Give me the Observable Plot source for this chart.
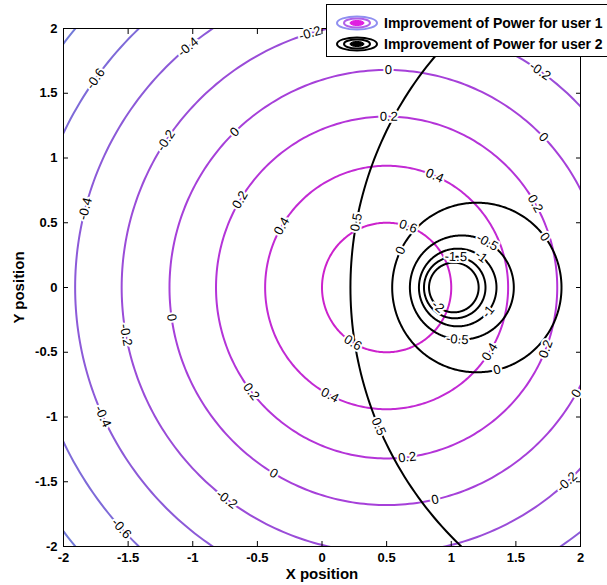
<!DOCTYPE html>
<html>
<head>
<meta charset="utf-8">
<script src="https://cdn.jsdelivr.net/npm/d3@7"></script>
<script src="https://cdn.jsdelivr.net/npm/@observablehq/plot@0.6"></script>
<style>
  body { margin: 0; background: #fff; font-family: "Liberation Sans", Arial, sans-serif; }
  #wrap { position: relative; width: 607px; height: 585px; overflow: hidden; }
  #wrap svg { display: block; }
  .legend { position: absolute; left: 326px; top: 4px; width: 300px; height: 53px; border: 1px solid #000; background: #fff; box-sizing: border-box; }
  .legend .row { position: absolute; left: 8px; height: 18px; display: flex; align-items: center; white-space: nowrap; font-weight: bold; font-size: 14px; }
  .legend .row svg { margin-right: 5px; }
</style>
</head>
<body>
<div id="wrap">
  <div class="legend">
    <div class="row" style="top:9px">
      <svg width="44" height="16" viewBox="0 0 44 16">
        <ellipse cx="22" cy="8" rx="20" ry="6.5" fill="none" stroke="#8f8ff0" stroke-width="2"/>
        <ellipse cx="22" cy="8" rx="13" ry="4.5" fill="none" stroke="#b060e8" stroke-width="2"/>
        <ellipse cx="22" cy="8" rx="7" ry="2.6" fill="#e020e0" stroke="#e020e0" stroke-width="1"/>
      </svg>
      <span>Improvement of Power for user 1</span>
    </div>
    <div class="row" style="top:30px">
      <svg width="44" height="16" viewBox="0 0 44 16">
        <ellipse cx="22" cy="8" rx="20" ry="6.5" fill="none" stroke="#000" stroke-width="2"/>
        <ellipse cx="22" cy="8" rx="13" ry="4.5" fill="none" stroke="#000" stroke-width="2"/>
        <ellipse cx="22" cy="8" rx="7" ry="2.6" fill="#000" stroke="#000" stroke-width="1"/>
      </svg>
      <span>Improvement of Power for user 2</span>
    </div>
  </div>
</div>
<script>
// User 1: concentric contours about a single centre
const user1CenterX = 0.5;
const user1CenterY = 0;
const user1Levels = [0.6, 0.4, 0.2, 0, -0.2, -0.4, -0.6, -0.8];
const user1Radii = [0.5, 0.94, 1.32, 1.68, 2.05, 2.41, 2.77, 3.13];
const user1Colors = ["#cc22cc", "#c22ad4", "#b434d8", "#a640d9", "#9a4cd8", "#8c5ad8", "#7e6ad8", "#727ad8"];

// User 2: nested contours whose centres shift along the x axis
const user2Levels = [0.5, 0, -0.5, -1, -1.5, -2];
const user2CenterX = [2.98, 1.198, 1.082, 1.05, 1.027, 1.02];
const user2Radii = [2.76, 0.655, 0.402, 0.30, 0.238, 0.192];

// Inline contour labels: level and position angle (degrees) along the contour
const user1LabelLevels = [-0.6, -0.4, -0.2, -0.2, -0.2, 0, -0.4, 0.2, 0.4, 0.6, 0.4, 0.2, 0, 0, 0.2,
                          0.6, -0.2, 0, 0.2, 0.4, 0.4, 0.2, 0, 0.2, 0, -0.2, -0.4, -0.2, 0, -0.6];
const user1LabelAngles = [144.4, 129.6, 106.8, 54.6, 146.4, 134.4, 165.4, 149.2, 149.7, 70.6, 66.7, 89.3, 89.5, 43.7, 29.4,
                          238.6, 190.3, 187.9, 217.5, 242.2, 328.1, 338.9, 330.9, 276.9, 282.9, 312.9, 204.4, 232.9, 238.7, 222.2];
const user2LabelLevels = [0.5, 0.5, 0, 0, 0, -0.5, -0.5, -1, -1, -1.5, -2];
const user2LabelAngles = [169.5, 202.9, 154.1, 36.7, 283.8, 60.6, 265, 53, 321.5, 88, 230.2];

// Axis ticks
const tickValues = [-2, -1.5, -1, -0.5, 0, 0.5, 1, 1.5, 2];
const tickLabels = ["-2", "-1.5", "-1", "-0.5", "0", "0.5", "1", "1.5", "2"];

const rad = Math.PI / 180;

function circlePoints(cx, cy, r, level) {
  return d3.range(0, 361, 1).map(a => ({x: cx + r * Math.cos(a * rad), y: cy + r * Math.sin(a * rad), level}));
}

const user1Lines = user1Levels.flatMap((lv, i) => circlePoints(user1CenterX, user1CenterY, user1Radii[i], lv));
const user2Lines = user2Levels.flatMap((lv, i) => circlePoints(user2CenterX[i], 0, user2Radii[i], lv));

// keep label text upright, aligned with the contour tangent
function tangentRotate(a) {
  let t = ((a + 90) % 180 + 180) % 180;
  if (t > 90) t -= 180;
  return -t;
}

const user1Labels = user1LabelLevels.map((lv, i) => {
  const r = user1Radii[user1Levels.indexOf(lv)];
  const a = user1LabelAngles[i];
  return {x: user1CenterX + r * Math.cos(a * rad), y: user1CenterY + r * Math.sin(a * rad), text: String(lv), rotate: tangentRotate(a)};
});
const user2Labels = user2LabelLevels.map((lv, i) => {
  const k = user2Levels.indexOf(lv);
  const a = user2LabelAngles[i];
  return {x: user2CenterX[k] + user2Radii[k] * Math.cos(a * rad), y: user2Radii[k] * Math.sin(a * rad), text: String(lv), rotate: tangentRotate(a)};
});

const fmt = d => tickLabels[tickValues.indexOf(d)];

const chart = Plot.plot({
  width: 607,
  height: 585,
  marginLeft: 63,
  marginRight: 27,
  marginTop: 28,
  marginBottom: 39,
  x: {domain: [-2, 2], label: null},
  y: {domain: [-2, 2], label: null},
  color: {type: "ordinal", domain: user1Levels, range: user1Colors},
  style: {fontFamily: "'Liberation Sans', Arial, sans-serif", fontSize: "12px", background: "white", color: "black"},
  marks: [
    Plot.line(user1Lines, {x: "x", y: "y", z: "level", stroke: "level", strokeWidth: 2, clip: true}),
    Plot.line(user2Lines, {x: "x", y: "y", z: "level", stroke: "black", strokeWidth: 2, clip: true}),
    Plot.frame({stroke: "black", strokeWidth: 1}),
    Plot.text([...user1Labels, ...user2Labels], {
      x: "x", y: "y", text: "text", rotate: "rotate",
      fill: "black", stroke: "white", strokeWidth: 4, paintOrder: "stroke",
      fontSize: 13
    }),
    // inward ticks on all four sides
    Plot.axisX(tickValues, {anchor: "bottom", tickSize: -5, tickFormat: () => "", label: null}),
    Plot.axisX(tickValues, {anchor: "top", tickSize: -5, tickFormat: () => "", label: null}),
    Plot.axisY(tickValues, {anchor: "left", tickSize: -5, tickFormat: () => "", label: null}),
    Plot.axisY(tickValues, {anchor: "right", tickSize: -5, tickFormat: () => "", label: null}),
    // tick labels
    Plot.axisX(tickValues, {anchor: "bottom", tickSize: 0, tickPadding: 6, tickFormat: fmt, label: null,
      fontWeight: "bold", fontSize: 13}),
    Plot.axisY(tickValues, {anchor: "left", tickSize: 0, tickPadding: 6, tickFormat: fmt, label: null,
      fontWeight: "bold", fontSize: 13}),
    // axis titles
    Plot.axisX([], {anchor: "bottom", tickSize: 0, label: "X position", labelAnchor: "center", labelArrow: "none",
      labelOffset: 32, fontWeight: "bold", fontSize: 15}),
    Plot.axisY([], {anchor: "left", tickSize: 0, label: "Y position", labelAnchor: "center", labelArrow: "none",
      labelOffset: 50, fontWeight: "bold", fontSize: 15})
  ]
});

document.getElementById("wrap").prepend(chart);
</script>
</body>
</html>
